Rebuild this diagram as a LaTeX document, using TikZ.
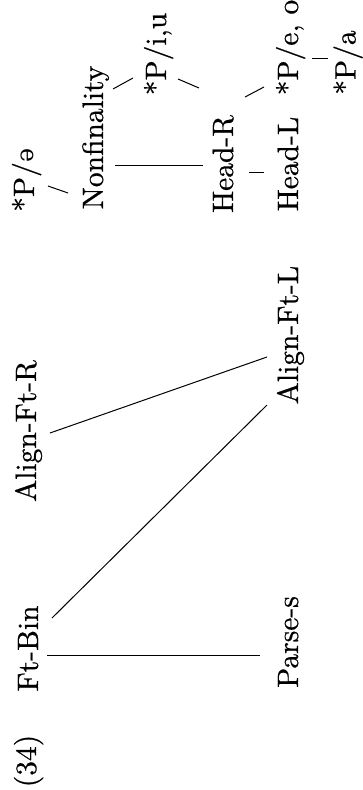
\documentclass[tikz,border=0pt]{standalone}
\usepackage{fontspec}
\setmainfont{lmroman10-regular.otf}[FakeBold=0.6]
\newfontfamily\ipafont{DejaVu Serif}[Scale=0.8]
\usetikzlibrary{calc}
\begin{document}
\begin{tikzpicture}[x=1pt,y=-1pt,
  lbl/.style={rotate=90,anchor=base,inner sep=0pt,font=\fontsize{29.5}{31}\selectfont},
  conn/.style={line width=1pt}]
\useasboundingbox (0,0) rectangle (363,790);
% nodes (image coordinates: x right, y down)
\node[lbl] (ex)     at (36,761)   {(34)};
\node[lbl] (ftbin)  at (38,648.5) {Ft-Bin};
\node[lbl] (parses) at (298,642)  {Parse-s};
\node[lbl] (alr)    at (36,431)   {Align-Ft-R};
\node[lbl] (all)    at (298,335)  {Align-Ft-L};
\node[lbl] (pschwa) at (34,180)   {*P/{\ipafont ə}};
\node[lbl] (nonfin) at (103,137.5){Nonfinality};
\node[lbl] (piu)    at (166,54)   {*P/i,u};
\node[lbl] (headr)  at (233,164)  {Head-R};
\node[lbl] (headl)  at (298,164)  {Head-L};
\node[lbl] (peo)    at (298,47.5) {*P/e, o};
\node[lbl] (pa)     at (355.5,62.5) {*P/a};
% connectors
\draw[conn] ([shift={(9,6.5)}]ftbin.base)   -- ([shift={(-38,13)}]parses.base);
\draw[conn] ([shift={(14,-30.5)}]ftbin.base) -- ([shift={(-31,70)}]all.base);
\draw[conn] ([shift={(14,2)}]alr.base)      -- ([shift={(-31,22)}]all.base);
\draw[conn] ([shift={(14,6)}]pschwa.base)   -- ([shift={(-35,55.5)}]nonfin.base);
\draw[conn] ([shift={(12,27.5)}]nonfin.base) -- ([shift={(-30,1)}]headr.base);
\draw[conn] ([shift={(10,-48.5)}]nonfin.base) -- ([shift={(-33,24)}]piu.base);
\draw[conn] ([shift={(12,25)}]piu.base)     -- ([shift={(-34,-76)}]headr.base);
\draw[conn] ([shift={(16,8)}]headr.base)    -- ([shift={(-34,8)}]headl.base);
\draw[conn] ([shift={(12,-67)}]headr.base)  -- ([shift={(-34,39.5)}]peo.base);
\draw[conn] ([shift={(14,10.5)}]peo.base)   -- ([shift={(-27.5,-4.5)}]pa.base);
\end{tikzpicture}
\end{document}
